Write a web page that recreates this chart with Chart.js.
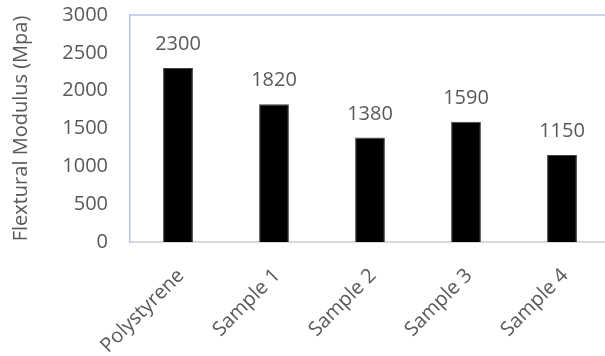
<!DOCTYPE html>
<html>
<head>
<meta charset="utf-8">
<script src="https://cdn.jsdelivr.net/npm/chart.js@4/dist/chart.umd.min.js"></script>
<style>
  html, body { margin: 0; padding: 0; overflow: hidden; background: #fff; }
  #wrap { position: relative; width: 610px; height: 356px; }
</style>
</head>
<body>
<div id="wrap"><canvas id="c"></canvas></div>
<script>
const categories = ['Polystyrene', 'Sample 1', 'Sample 2', 'Sample 3', 'Sample 4'];
const modulusValues = [2300, 1820, 1380, 1590, 1150];
const yTicks = [0, 500, 1000, 1500, 2000, 2500, 3000];
const yTitle = 'Flextural Modulus (Mpa)';

const TEXT = '#595959';
const FONT = "'Open Sans', sans-serif";

const valueLabels = {
  id: 'valueLabels',
  afterDatasetsDraw(chart) {
    const ctx = chart.ctx;
    const meta = chart.getDatasetMeta(0);
    ctx.save();
    ctx.font = "20px 'Open Sans', sans-serif";
    ctx.fillStyle = TEXT;
    ctx.textAlign = 'center';
    ctx.textBaseline = 'alphabetic';
    meta.data.forEach((bar, i) => {
      ctx.fillText(String(chart.data.datasets[0].data[i]), bar.x, bar.y - 18);
    });
    ctx.restore();
  }
};

const plotBorder = {
  id: 'plotBorder',
  afterDraw(chart) {
    const a = chart.chartArea;
    const ctx = chart.ctx;
    ctx.save();
    ctx.strokeStyle = '#b4c7e7';
    ctx.lineWidth = 1.5;
    ctx.beginPath();
    ctx.moveTo(a.left, a.top);
    ctx.lineTo(a.right + 5, a.top);
    ctx.stroke();
    ctx.restore();
  }
};

new Chart(document.getElementById('c'), {
  type: 'bar',
  data: {
    labels: categories,
    datasets: [{
      data: modulusValues,
      backgroundColor: '#000000',
      borderColor: '#404040',
      borderWidth: 1,
      categoryPercentage: 1,
      barPercentage: 0.31
    }]
  },
  options: {
    responsive: true,
    maintainAspectRatio: false,
    animation: false,
    layout: { padding: 0 },
    plugins: { legend: { display: false }, tooltip: { enabled: false } },
    scales: {
      x: {
        grid: { display: false, drawTicks: false },
        border: { display: true, color: '#d9d9d9', width: 2 },
        ticks: {
          color: TEXT,
          font: { family: FONT, size: 20 },
          maxRotation: 45,
          minRotation: 45,
          padding: 22,
          labelOffset: 3,
          autoSkip: false
        },
        afterFit(scale) {
          scale.height = 114;
          scale.paddingLeft = 0;
          scale.paddingRight = 0;
        }
      },
      y: {
        min: 0,
        max: 3000,
        afterBuildTicks(scale) { scale.ticks = yTicks.map(v => ({ value: v })); },
        grid: { display: false, drawTicks: false },
        border: { display: true, color: '#b4c7e7', width: 1.5 },
        ticks: {
          color: TEXT,
          font: { family: FONT, size: 20 },
          padding: 22,
          callback: v => String(v)
        },
        title: {
          display: true,
          text: yTitle,
          color: TEXT,
          font: { family: FONT, size: 20, weight: 'normal' },
          padding: { top: 9, bottom: 0 }
        },
        afterFit(scale) {
          scale.width = 130;
          scale.paddingTop = 15;
          scale.paddingBottom = 0;
        }
      }
    }
  },
  plugins: [valueLabels, plotBorder]
});
</script>
</body>
</html>
